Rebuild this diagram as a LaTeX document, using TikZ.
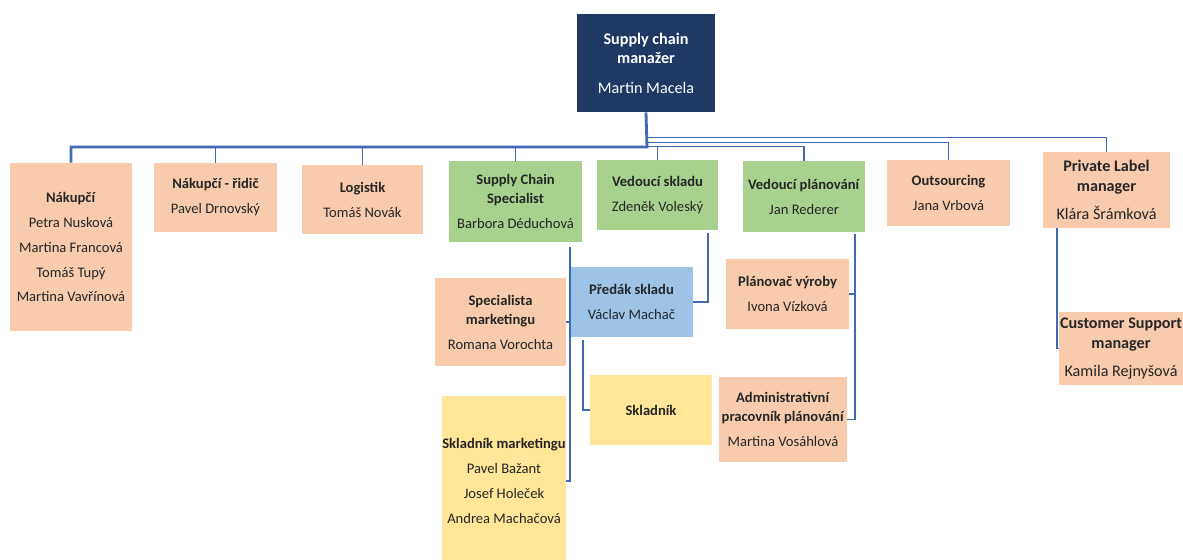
\documentclass[tikz,border=0pt]{standalone}
\usepackage{fontspec}
\setmainfont{Carlito}
\definecolor{navyfill}{HTML}{203864}
\definecolor{peachfill}{HTML}{F8CBAD}
\definecolor{greenfill}{HTML}{A9D18E}
\definecolor{bluefill}{HTML}{9DC3E6}
\definecolor{yellowfill}{HTML}{FFE699}
\definecolor{linkblue}{HTML}{4169B4}
\newcommand{\twoline}[2]{\textbf{#1}\\[-3.4pt]\textbf{#2}}
\newcommand{\bigfont}{\fontsize{9.2}{11}\selectfont}
\newcommand{\smallfont}{\fontsize{8.3}{14.2}\selectfont}

\begin{document}
\begin{tikzpicture}[x=0.02cm,y=-0.02cm,
    box/.style={inner sep=0pt,align=center,text=black!85,font=\smallfont},
    peachbox/.style={box,fill=peachfill},
    greenbox/.style={box,fill=greenfill},
    bluebox/.style={box,fill=bluefill},
    yellowbox/.style={box,fill=yellowfill},
    link/.style={draw=linkblue,line width=0.9pt}]
  \useasboundingbox (0,0) rectangle (1183,560);

  \node[box,fill=navyfill,text=white,font=\bigfont,minimum width=2.76cm,minimum height=1.96cm] (root) at (646,63)
    {\textbf{Supply chain}\\\textbf{manažer}\\[6pt]Martin Macela};

  \node[peachbox,minimum width=2.46cm,minimum height=3.36cm] (nakupci) at (71,247)
    {\textbf{Nákupčí}\\Petra Nusková\\Martina Francová\\Tomáš Tupý\\Martina Vavřínová};
  \node[peachbox,minimum width=2.46cm,minimum height=1.38cm] (ridic) at (215.5,197.5)
    {\textbf{Nákupčí - řidič}\\Pavel Drnovský};
  \node[peachbox,minimum width=2.42cm,minimum height=1.38cm] (logistik) at (362.5,199.5)
    {\textbf{Logistik}\\Tomáš Novák};
  \node[greenbox,minimum width=2.66cm,minimum height=1.62cm] (scs) at (515.5,201.5)
    {\twoline{Supply Chain}{Specialist}\\Barbora Déduchová};
  \node[greenbox,minimum width=2.42cm,minimum height=1.40cm] (vskladu) at (657.5,195)
    {\textbf{Vedoucí skladu}\\Zdeněk Voleský};
  \node[greenbox,minimum width=2.44cm,minimum height=1.42cm] (vplan) at (804,196.5)
    {\textbf{Vedoucí plánování}\\Jan Rederer};
  \node[peachbox,minimum width=2.46cm,minimum height=1.32cm] (outs) at (948.5,193)
    {\textbf{Outsourcing}\\Jana Vrbová};
  \node[peachbox,font=\bigfont,minimum width=2.54cm,minimum height=1.52cm] (private) at (1106.5,190)
    {\textbf{Private Label}\\\textbf{manager}\\[5pt]Klára Šrámková};

  \node[peachbox,minimum width=2.62cm,minimum height=1.76cm] (specmkt) at (500.5,322)
    {\twoline{Specialista}{marketingu}\\Romana Vorochta};
  \node[yellowbox,minimum width=2.48cm,minimum height=3.40cm] (skmkt) at (504,481)
    {\textbf{Skladník marketingu}\\Pavel Bažant\\Josef Holeček\\Andrea Machačová};
  \node[bluebox,minimum width=2.46cm,minimum height=1.40cm] (predak) at (631.5,302)
    {\textbf{Předák skladu}\\Václav Machač};
  \node[yellowbox,minimum width=2.44cm,minimum height=1.40cm] (skladnik) at (651,410)
    {\textbf{Skladník}};
  \node[peachbox,minimum width=2.46cm,minimum height=1.40cm] (planovac) at (787.5,294)
    {\textbf{Plánovač výroby}\\Ivona Vízková};
  \node[peachbox,minimum width=2.56cm,minimum height=1.70cm] (admin) at (783,419.5)
    {\twoline{Administrativní}{pracovník plánování}\\Martina Vosáhlová};
  \node[peachbox,font=\bigfont,minimum width=2.48cm,minimum height=1.46cm] (custsup) at (1121,348.5)
    {\textbf{Customer Support}\\\textbf{manager}\\[5pt]Kamila Rejnyšová};

  \coordinate (busL) at (647,147);
  \draw[link,line width=1.6pt] (root.south) -- (busL) -| (nakupci.north);
  \draw[link] (busL) -| (ridic.north);
  \draw[link] (busL) -| (logistik.north);
  \draw[link] (busL) -| (scs.north);
  \draw[link] (root.south) ++(0,25) -| (private.north);
  \draw[link] (root.south) ++(0,30) -| (outs.north);
  \draw[link] (root.south) ++(0,34) -| (vplan.north);
  \draw[link] (root.south) ++(0,34) -| (vskladu.north);

  \coordinate (scsdrop) at (570,247);
  \coordinate (skladudrop) at (708,233);
  \coordinate (predakdrop) at (583,340);
  \coordinate (plandrop) at (855,234);
  \coordinate (privatedrop) at (1057,228);
  \draw[link] (scsdrop) |- (specmkt.east);
  \draw[link] (scsdrop) |- (skmkt.east);
  \draw[link] (skladudrop) |- (predak.east);
  \draw[link] (predakdrop) |- (skladnik.west);
  \draw[link] (plandrop) |- (planovac.east);
  \draw[link] (plandrop) |- (admin.east);
  \draw[link] (privatedrop) |- (custsup.west);
\end{tikzpicture}
\end{document}
